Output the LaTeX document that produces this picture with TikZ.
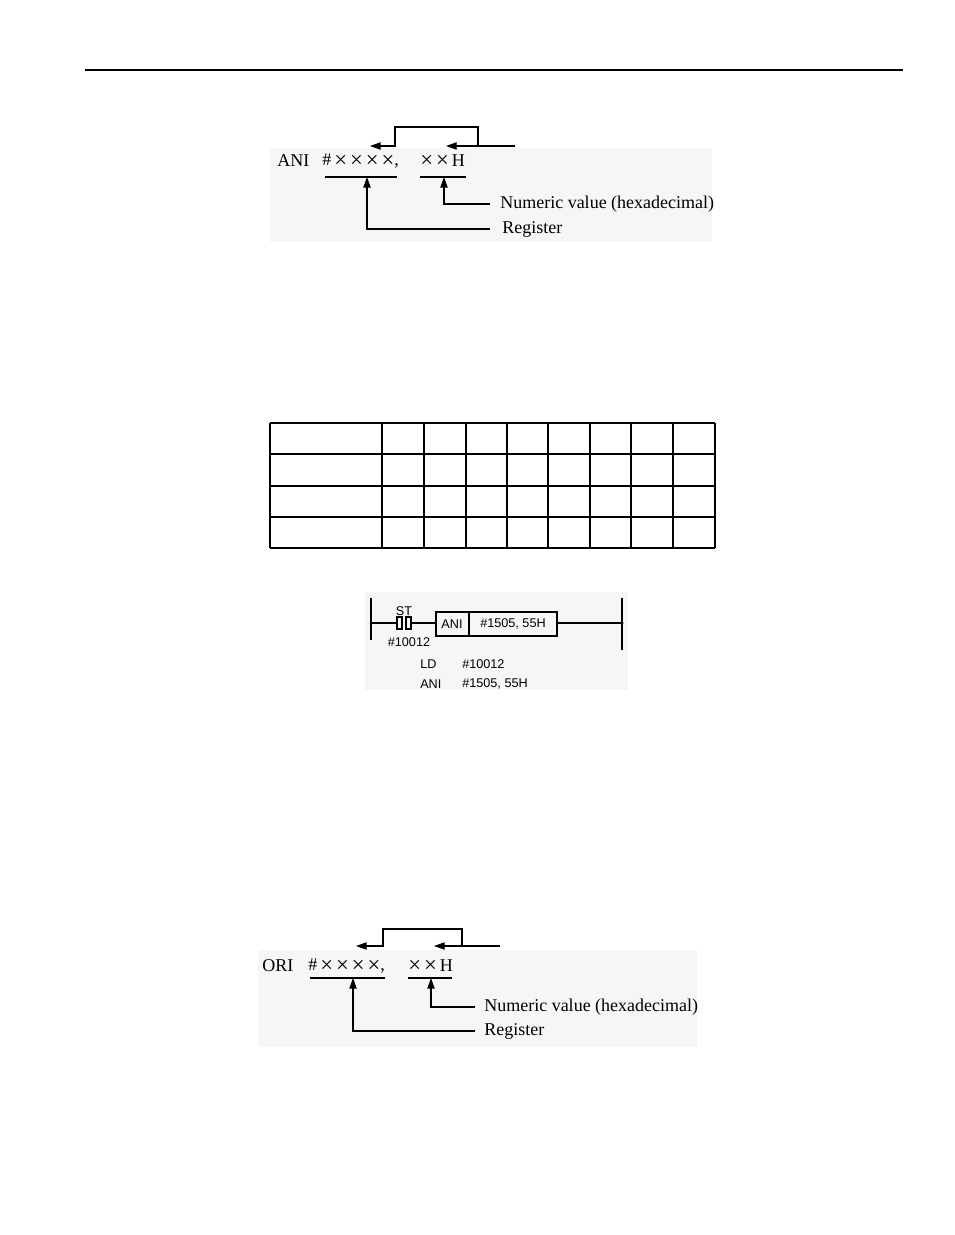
\documentclass[tikz,border=0pt]{standalone}
\usepackage{fontspec}
\setmainfont{Liberation Serif}
\setsansfont{Liberation Sans}
\usetikzlibrary{arrows.meta}
\definecolor{scan}{gray}{0.965}
\newcommand{\xx}{\raisebox{-1.3pt}{\fontsize{17}{17}\selectfont ×}}
\begin{document}
\begin{tikzpicture}[x=0.75pt,y=-0.75pt,
  lbl/.style={inner sep=0pt,anchor=west,font=\fontsize{13.5}{13.5}\selectfont},
  lad/.style={inner sep=0pt,anchor=west,font=\sffamily\fontsize{9.5}{10}\selectfont},
  arr/.style={-{Triangle[length=8pt,width=5.5pt]},line width=0.8pt},
  ln/.style={line width=0.8pt}]
\useasboundingbox (0,0) rectangle (954,1235);
\draw[line width=1.5pt] (85,70) -- (903,70);
% ---- top diagram
\fill[scan] (270,148) rectangle (712,242);
\node[lbl] (ani) at (277,161) {ANI};
\node[lbl] (reg) at (322,161) {\#\,\xx\,\xx\,\xx\,\xx,};
\node[lbl] (val) at (420,161) {\xx\,\xx\,H};
\draw[ln] (325,177) -- (397,177); \draw[ln] (420,177) -- (466,177);
\node[lbl] (nv) at (500,204) {Numeric value (hexadecimal)};
\node[lbl] (rg) at (502,229) {Register};
\coordinate (a1) at (444,177); \coordinate (a2) at (367,177);
\draw[arr] (490,204) -- (444,204) -- (a1);
\draw[arr] (490,229) -- (367,229) -- (a2);
\coordinate (t1) at (370,146); \coordinate (t2) at (446,146); \coordinate (t3) at (515,146);
\draw[arr] (478,146) -- (478,127) -- (395,127) -- (395,146) -- (t1);
\draw[arr] (t3) -- (t2);
% ---- table
\foreach \y in {423,454,486,517,548} \draw[ln] (270,\y) -- (715,\y);
\foreach \x in {270,382,424,466,507,548,590,631,673,715} \draw[ln] (\x,423) -- (\x,548);
% ---- ladder
\fill[scan] (365,592) rectangle (628,690);
\draw[ln] (371,598) -- (371,640);
\draw[ln] (622,598) -- (622,650);
\fill (371,623) circle (1.5); \fill (622,623) circle (1.5);
\draw[ln] (371,623) -- (397,623);
\draw[ln] (397,617) rectangle (402,629);
\draw[ln] (406,617) rectangle (411,629);
\draw[ln] (411,623) -- (436,623);
\node[lad,anchor=center] (st) at (404,611) {ST};
\node[lad,anchor=center] (c1) at (409,642) {\#10012};
\draw[ln] (436,612) rectangle (557,636); \draw[ln] (469,612) -- (469,636);
\node[lad,anchor=center] (bx1) at (452,624) {ANI};
\node[lad,anchor=center] (bx2) at (513,624) {\#1505, 55H};
\draw[ln] (557,623) -- (622,623);
\node[lad] (l1) at (420,664) {LD};
\node[lad] (l2) at (462,664) {\#10012};
\node[lad] (l3) at (420,684) {ANI};
\node[lad] (l4) at (462,684) {\#1505, 55H};
% ---- bottom diagram
\fill[scan] (258,950) rectangle (697,1047);
\node[lbl] (ori) at (262,966) {ORI};
\node[lbl] (reg2) at (308,966) {\#\,\xx\,\xx\,\xx\,\xx,};
\node[lbl] (val2) at (408,966) {\xx\,\xx\,H};
\draw[ln] (310,978) -- (385,978); \draw[ln] (408,978) -- (452,978);
\node[lbl] (nv2) at (484,1007) {Numeric value (hexadecimal)};
\node[lbl] (rg2) at (484,1031) {Register};
\coordinate (b1) at (431,978); \coordinate (b2) at (353,978);
\draw[arr] (475,1007) -- (431,1007) -- (b1);
\draw[arr] (475,1031) -- (353,1031) -- (b2);
\coordinate (s1) at (356,946); \coordinate (s2) at (434,946); \coordinate (s3) at (500,946);
\draw[arr] (462,946) -- (462,929) -- (383,929) -- (383,946) -- (s1);
\draw[arr] (s3) -- (s2);
\end{tikzpicture}
\end{document}
